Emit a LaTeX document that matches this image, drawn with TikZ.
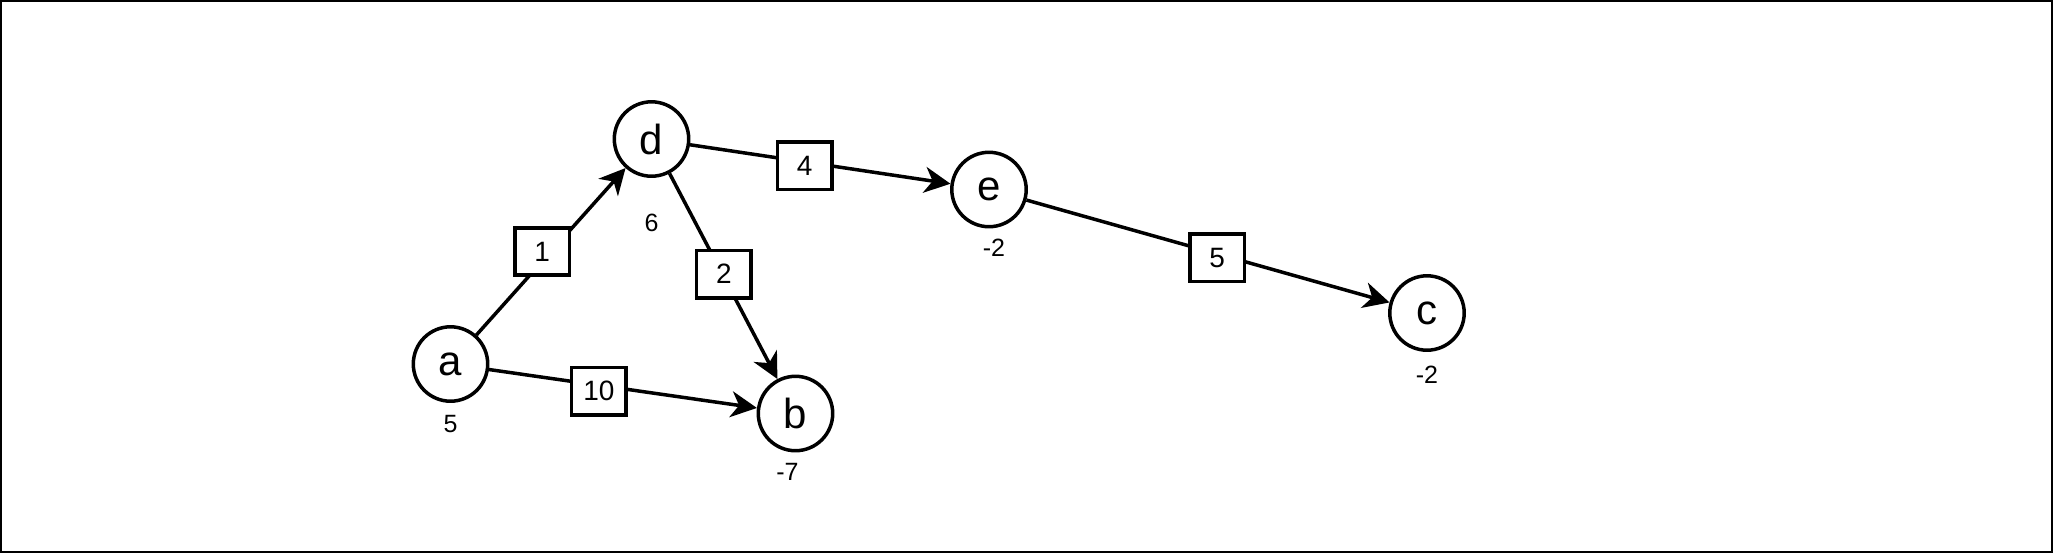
\documentclass[tikz,border=0pt]{standalone}
\usepackage{fontspec}
\setmainfont{Liberation Sans}
\usetikzlibrary{arrows.meta}

\begin{document}
\begin{tikzpicture}[x=0.5pt,y=-0.5pt,
    vertex/.style={draw,circle,line width=1.75pt,minimum size=37.2pt,inner sep=0pt,font=\fontsize{21}{21}\selectfont},
    cost/.style={draw,fill=white,line width=1.75pt,minimum width=27.2pt,minimum height=23.7pt,inner sep=0pt,font=\fontsize{14}{14}\selectfont},
    supply/.style={inner sep=0pt,font=\fontsize{12.5}{12.5}\selectfont},
    edge/.style={line width=1.75pt,-{Stealth[length=13pt,width=13pt,inset=4pt]}}]
    \useasboundingbox (0,0) rectangle (2053,553);
    \draw[line width=1pt] (1,1) rectangle (2052,552);
    % vertices with their supply below
    \node[vertex] (a) at (450.5,364) {a};
    \node[vertex] (d) at (651.5,139) {d};
    \node[vertex] (b) at (795.5,413.5) {b};
    \node[vertex] (e) at (989,189.5) {e};
    \node[vertex] (c) at (1427,313) {c};
    \node[supply] (sa) at (450.5,424) {5};
    \node[supply] (sd) at (651.5,222.5) {6};
    \node[supply] (sb) at (787.5,472) {-7};
    \node[supply] (se) at (994,248) {-2};
    \node[supply] (sc) at (1427,375) {-2};
    % arcs with costs (labels a little off the line)
    \draw[edge] (a) -- node[cost,pos=.44,yshift=5pt]{1} (d);
    \draw[edge] (d) -- node[cost,pos=.49,xshift=.75pt]{2} (b);
    \draw[edge] (a) -- node[cost,pos=.41,yshift=-3pt]{10} (b);
    \draw[edge] (d) -- node[cost,pos=.44,yshift=-2pt]{4} (e);
    \draw[edge] (e) -- node[cost,pos=.525,yshift=-2pt]{5} (c);
\end{tikzpicture}
\end{document}
